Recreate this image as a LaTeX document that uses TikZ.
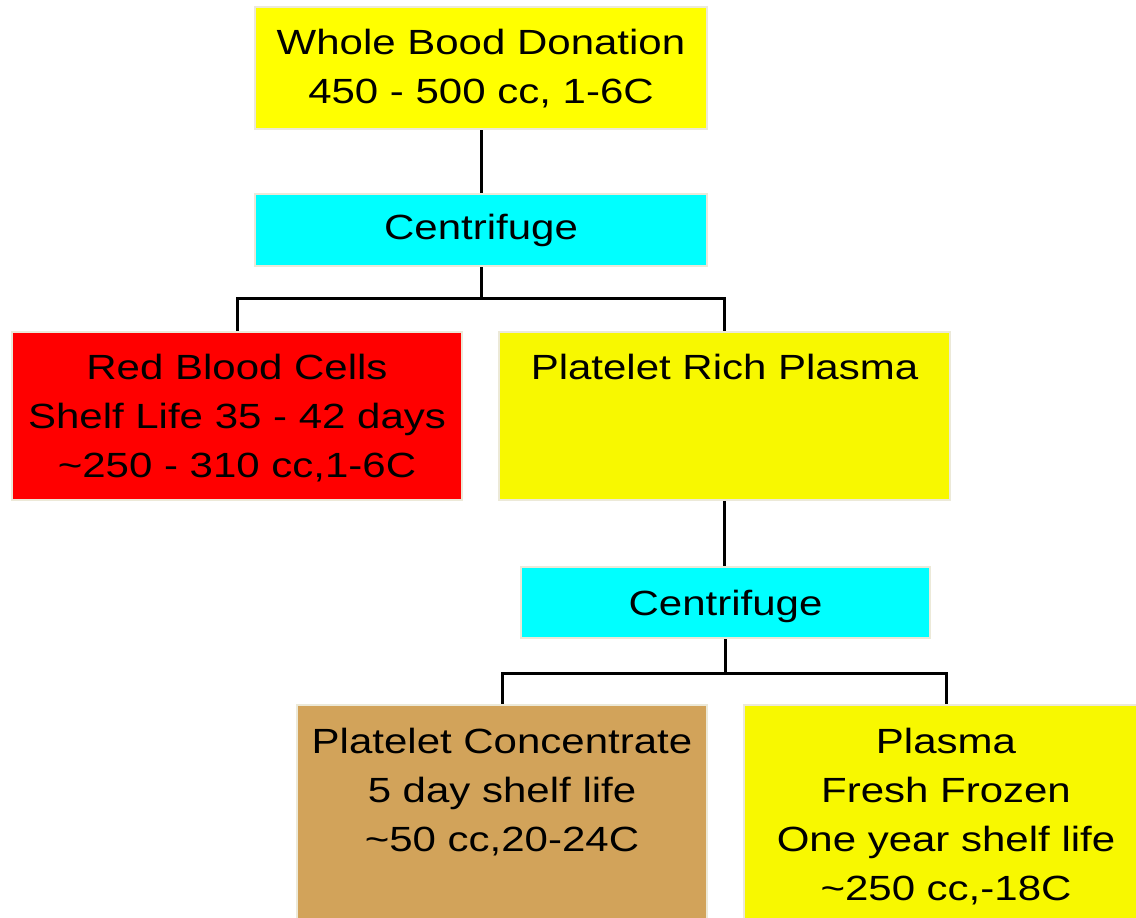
\documentclass[tikz,border=0pt]{standalone}
\usepackage{fontspec}
\setmainfont{Liberation Sans}[FakeStretch=1.2]
\usepackage{tikz}

\definecolor{edgegray}{HTML}{ECE9D8}
\definecolor{boxyellow}{HTML}{FFFF00}
\definecolor{paleyellow}{HTML}{F8F800}
\definecolor{boxcyan}{HTML}{00FFFF}
\definecolor{boxred}{HTML}{FF0000}
\definecolor{boxtan}{HTML}{D2A35A}

\begin{document}
\begin{tikzpicture}[x=1pt, y=-1pt,
    box/.style={draw=edgegray, line width=2pt, inner sep=0pt, anchor=north west,
        align=center, font=\fontsize{35}{49}\selectfont},
    link/.style={black, line width=3pt}]

    \clip (0,0) rectangle (1136,918);
    \fill[white] (0,0) rectangle (1136,918);

    % 1. the boxes, top to bottom
    \node[box, fill=boxyellow, text width=452pt, text height=47pt, text depth=75pt]
        (wbd) at (254,6) {Whole Bood Donation\\450 - 500 cc, 1-6C};
    \node[box, fill=boxcyan, text width=452pt, text height=45pt, text depth=27pt]
        (spin1) at (254,193) {Centrifuge};
    \node[box, fill=boxred, text width=450pt, text height=47pt, text depth=121pt]
        (rbc) at (11,331) {Red Blood Cells\\Shelf Life 35 - 42 days\\\textasciitilde250 - 310 cc,1-6C};
    \node[box, fill=paleyellow, text width=451pt, text height=47pt, text depth=121pt]
        (prp) at (498,331) {Platelet Rich Plasma};
    \node[box, fill=boxcyan, text width=409pt, text height=48pt, text depth=23pt]
        (spin2) at (520,566) {Centrifuge};
    \node[box, fill=boxtan, text width=410pt, text height=48pt, text depth=250pt]
        (pc) at (296,704) {Platelet Concentrate\\5 day shelf life\\\textasciitilde50 cc,20-24C};
    \node[box, fill=paleyellow, text width=404pt, text height=48pt, text depth=250pt]
        (ffp) at (743,704) {Plasma\\Fresh Frozen\\One year shelf life\\\textasciitilde250 cc,-18C};

    % 2. the connectors
    \draw[link] (wbd.south) -- (spin1.north);
    \draw[link] (spin1.south) -- ++(0,31) coordinate (split1);
    \draw[link] (split1) -| (rbc.north);
    \draw[link] (split1) -| (prp.north);
    \draw[link] (prp.south) -- (prp.south |- spin2.north);
    \draw[link] (spin2.south) -- ++(0,34) coordinate (split2);
    \draw[link] (split2) -| (pc.north);
    \draw[link] (split2) -| (ffp.north);

\end{tikzpicture}
\end{document}
